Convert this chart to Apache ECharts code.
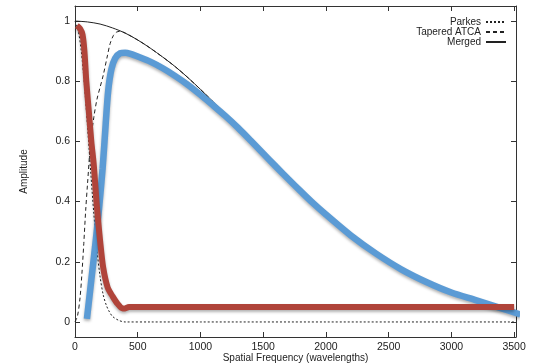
<!DOCTYPE html>
<html>
<head>
<meta charset="utf-8">
<script src="https://cdn.jsdelivr.net/npm/echarts@6/dist/echarts.min.js"></script>
<style>
  html, body { margin: 0; padding: 0; background: #fff; }
  #chart { width: 535px; height: 363px; }
</style>
</head>
<body>
<div id="chart"></div>
<script>
// Tick positions
const xTicks = [0, 500, 1000, 1500, 2000, 2500, 3000, 3500];
const yTicks = [0, 0.2, 0.4, 0.6, 0.8, 1];

// Parkes single-dish response (dotted)
const parkesU = [0, 25, 50, 75, 100, 125, 150, 175, 200, 225, 250, 275, 300, 350, 400, 600, 1000, 2000, 3000, 3500];
const parkesAmp = [1.0, 0.97, 0.9, 0.79, 0.65, 0.5, 0.36, 0.24, 0.15, 0.09, 0.055, 0.033, 0.018, 0.005, 0.0, 0.0, 0.0, 0.0, 0.0, 0.0];

// Tapered ATCA response (dashed)
const atcaU = [0, 20, 40, 55, 70, 85, 100, 125, 150, 175, 200, 225, 258, 280, 306, 330, 360, 400, 500, 600, 800, 1000, 1200];
const atcaAmp = [0.0, 0.02, 0.08, 0.16, 0.26, 0.37, 0.46, 0.6, 0.68, 0.74, 0.78, 0.82, 0.884, 0.925, 0.952, 0.963, 0.966, 0.96, 0.937, 0.91, 0.848, 0.773, 0.69];

// Merged response (solid)
const mergedU = [0, 100, 200, 300, 400, 500, 600, 700, 800, 900, 1000, 1100, 1200, 1300, 1400, 1500, 1600, 1700, 1800, 1900, 2000, 2200, 2400, 2600, 2800, 3000, 3200, 3400, 3500];
const mergedAmp = [1.0, 0.997, 0.99, 0.977, 0.96, 0.937, 0.91, 0.88, 0.848, 0.812, 0.773, 0.732, 0.69, 0.647, 0.603, 0.56, 0.517, 0.475, 0.434, 0.394, 0.357, 0.287, 0.227, 0.175, 0.133, 0.098, 0.072, 0.048, 0.04];

// Thick blue curve
const blueU = [95, 130, 160, 190, 220, 245, 265, 290, 320, 360, 400, 450, 500, 600, 700, 800, 900, 1000, 1100, 1200, 1300, 1400, 1500, 1600, 1700, 1800, 1900, 2000, 2200, 2400, 2600, 2800, 3000, 3200, 3400, 3550];
const blueAmp = [0.01, 0.14, 0.25, 0.37, 0.51, 0.66, 0.77, 0.84, 0.876, 0.893, 0.895, 0.89, 0.882, 0.865, 0.843, 0.817, 0.788, 0.755, 0.72, 0.684, 0.645, 0.603, 0.56, 0.517, 0.475, 0.434, 0.394, 0.357, 0.287, 0.227, 0.175, 0.133, 0.098, 0.072, 0.045, 0.025];

// Thick red curve
const redU = [15, 40, 60, 75, 90, 110, 130, 150, 175, 200, 225, 260, 300, 340, 380, 400, 430, 1000, 2000, 3000, 3500];
const redAmp = [0.985, 0.975, 0.955, 0.9, 0.8, 0.7, 0.6, 0.52, 0.38, 0.27, 0.18, 0.115, 0.085, 0.06, 0.045, 0.045, 0.05, 0.05, 0.05, 0.05, 0.05];

const zip = (xs, ys) => xs.map((x, i) => [x, ys[i]]);

const FONT = '"Liberation Sans", Arial, Helvetica, sans-serif';
const INK = '#222';
const FRAME = '#333';

const chart = echarts.init(document.getElementById('chart'));

function frameAxis(extra) {
  return Object.assign({
    type: 'value',
    nameMoveOverlap: false,
    axisLine: { show: true, onZero: false, lineStyle: { color: FRAME, width: 1 } },
    splitLine: { show: false }
  }, extra);
}

chart.setOption({
  animation: false,
  backgroundColor: '#fff',
  grid: { left: 75, top: 6, right: 19, bottom: 26, outerBoundsMode: 'none', containLabel: false },
  legend: {
    data: ['Parkes', 'Tapered ATCA', 'Merged'],
    orient: 'vertical',
    right: 28,
    top: 17,
    padding: 0,
    align: 'right',
    itemWidth: 20,
    itemHeight: 10,
    itemGap: 0,
    selectedMode: false,
    itemStyle: { opacity: 0 },
    textStyle: { fontFamily: FONT, fontSize: 10, color: INK, lineHeight: 10 }
  },
  xAxis: [
    frameAxis({
      position: 'bottom', min: 0, max: 3515,
      name: 'Spatial Frequency (wavelengths)',
      nameLocation: 'middle', nameGap: 16,
      nameTextStyle: { fontFamily: FONT, fontSize: 10, color: INK },
      axisTick: { show: true, inside: true, length: 5, customValues: xTicks, lineStyle: { color: FRAME } },
      axisLabel: { show: true, margin: 5, customValues: xTicks, formatter: v => String(v),
                   fontFamily: FONT, fontSize: 10.5, color: INK }
    }),
    frameAxis({
      position: 'top', min: 0, max: 3515,
      axisTick: { show: true, inside: true, length: 5, customValues: xTicks, lineStyle: { color: FRAME } },
      axisLabel: { show: false }
    })
  ],
  yAxis: [
    frameAxis({
      position: 'left', min: -0.05, max: 1.05,
      name: 'Amplitude',
      nameLocation: 'middle', nameGap: 46, nameRotate: 90,
      nameTextStyle: { fontFamily: FONT, fontSize: 10, color: INK },
      axisTick: { show: true, inside: true, length: 5, customValues: yTicks, lineStyle: { color: FRAME } },
      axisLabel: { show: true, margin: 5, customValues: yTicks, formatter: v => String(v),
                   fontFamily: FONT, fontSize: 10.5, color: INK }
    }),
    frameAxis({
      position: 'right', min: -0.05, max: 1.05,
      axisTick: { show: true, inside: true, length: 5, customValues: yTicks, lineStyle: { color: FRAME } },
      axisLabel: { show: false }
    })
  ],
  series: [
    {
      name: 'Parkes', type: 'line', data: zip(parkesU, parkesAmp),
      symbol: 'none', smooth: 0.3, z: 2,
      lineStyle: { color: '#222', width: 1, type: [2, 2] },
      itemStyle: { color: '#222' }
    },
    {
      name: 'Tapered ATCA', type: 'line', data: zip(atcaU, atcaAmp),
      symbol: 'none', smooth: 0.3, z: 2,
      lineStyle: { color: '#222', width: 1, type: [4, 3] },
      itemStyle: { color: '#222' }
    },
    {
      name: 'Merged', type: 'line', data: zip(mergedU, mergedAmp),
      symbol: 'none', smooth: 0.3, z: 2,
      lineStyle: { color: '#222', width: 1 },
      itemStyle: { color: '#222' }
    },
    {
      name: 'Combined overlay', type: 'line', data: zip(blueU, blueAmp),
      symbol: 'none', smooth: 0.3, z: 3, clip: false,
      lineStyle: { color: '#5b9bd5', width: 6.5, shadowBlur: 3, shadowColor: 'rgba(0,0,0,0.3)', shadowOffsetY: 2 }
    },
    {
      name: 'Single-dish overlay', type: 'line', data: zip(redU, redAmp),
      symbol: 'none', smooth: 0.3, z: 4,
      lineStyle: { color: '#b0443a', width: 6, shadowBlur: 3, shadowColor: 'rgba(0,0,0,0.3)', shadowOffsetY: 2 }
    }
  ]
});
</script>
</body>
</html>
